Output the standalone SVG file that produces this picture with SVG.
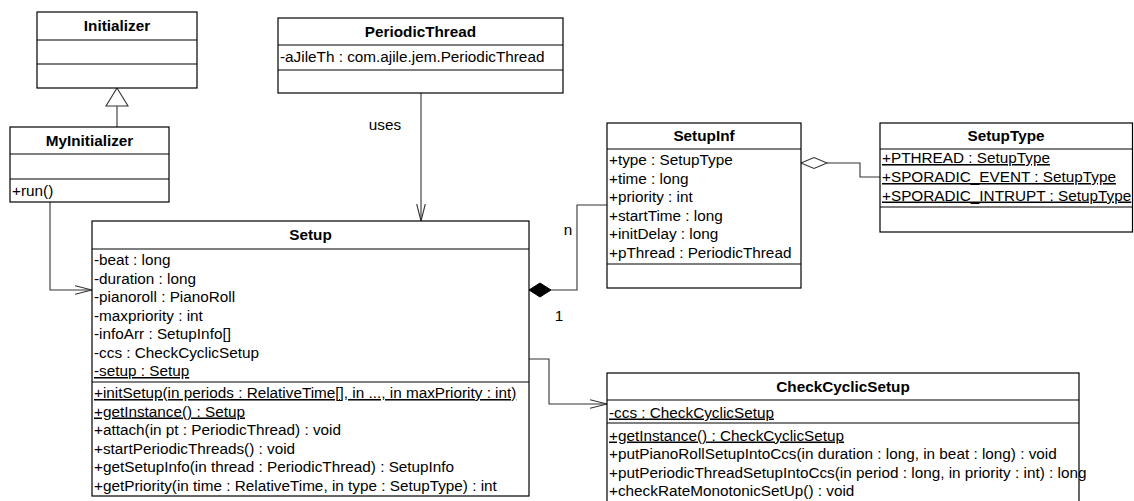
<svg xmlns="http://www.w3.org/2000/svg" width="1134" height="501" viewBox="0 0 1134 501">
  <style>
    text { font-family: "Liberation Sans", Arial, sans-serif; font-size: 15.3px; fill: #000; }
    .title { font-weight: bold; text-anchor: middle; }
    .u { text-decoration: underline; }
    .box { fill: #fff; stroke: #000; stroke-width: 1.2; }
    .div { stroke: #000; stroke-width: 1.2; }
    .conn { fill: none; stroke: #333; stroke-width: 1.1; }
  </style>
  <defs>
    <marker id="open" viewBox="0 0 18 10" refX="17" refY="5" markerWidth="18" markerHeight="10" markerUnits="userSpaceOnUse" orient="auto">
      <path d="M0,0.7 L17,5 L0,9.3" fill="none" stroke="#333" stroke-width="1.1"/>
    </marker>
  </defs>
  <rect width="1134" height="501" fill="#fff"/>

  <!-- connectors -->
  <g id="connectors">
    <!-- MyInitializer generalises Initializer -->
    <path class="conn" d="M117,127 V106"/>
    <path d="M117,88 L106,106 L128,106 Z" fill="#fff" stroke="#333" stroke-width="1.1"/>
    <!-- MyInitializer to Setup -->
    <path class="conn" d="M50,202 V290 H92" marker-end="url(#open)"/>
    <!-- PeriodicThread uses Setup -->
    <path class="conn" d="M421,93 V221" marker-end="url(#open)"/>
    <text x="385" y="130" text-anchor="middle">uses</text>
    <!-- Setup composes SetupInf -->
    <path class="conn" d="M551,290 H577 V205 H607"/>
    <path d="M529,290 L540,283 L551,290 L540,297 Z" fill="#000" stroke="#000" stroke-width="1"/>
    <text x="568" y="235" text-anchor="middle">n</text>
    <text x="559" y="321" text-anchor="middle">1</text>
    <!-- SetupInf aggregates SetupType -->
    <path class="conn" d="M827,163 H860 V177 H880"/>
    <path d="M801,163 L814,157.5 L827,163 L814,168.5 Z" fill="#fff" stroke="#333" stroke-width="1.1"/>
    <!-- Setup to CheckCyclicSetup -->
    <path class="conn" d="M529,359 H549 V404 H607" marker-end="url(#open)"/>
  </g>

  <g id="Initializer">
    <rect class="box" x="37" y="12" width="160" height="76"/>
    <line class="div" x1="37" y1="40" x2="197" y2="40"/>
    <line class="div" x1="37" y1="64" x2="197" y2="64"/>
    <text class="title" x="117" y="31">Initializer</text>
  </g>

  <g id="MyInitializer">
    <rect class="box" x="10" y="127" width="159" height="75"/>
    <line class="div" x1="10" y1="154" x2="169" y2="154"/>
    <line class="div" x1="10" y1="179" x2="169" y2="179"/>
    <text class="title" x="89.5" y="146">MyInitializer</text>
    <text x="12" y="196">+run()</text>
  </g>

  <g id="PeriodicThread">
    <rect class="box" x="278" y="18" width="285" height="75"/>
    <line class="div" x1="278" y1="45" x2="563" y2="45"/>
    <line class="div" x1="278" y1="70" x2="563" y2="70"/>
    <text class="title" x="420.5" y="37">PeriodicThread</text>
    <text x="280" y="62">-aJileTh : com.ajile.jem.PeriodicThread</text>
  </g>

  <g id="Setup">
    <rect class="box" x="92" y="221" width="437" height="275"/>
    <line class="div" x1="92" y1="249" x2="529" y2="249"/>
    <line class="div" x1="92" y1="382" x2="529" y2="382"/>
    <text class="title" x="310.5" y="240">Setup</text>
    <text x="94" y="265">-beat : long</text>
    <text x="94" y="283.5">-duration : long</text>
    <text x="94" y="302">-pianoroll : PianoRoll</text>
    <text x="94" y="320.5">-maxpriority : int</text>
    <text x="94" y="339">-infoArr : SetupInfo[]</text>
    <text x="94" y="357.5">-ccs : CheckCyclicSetup</text>
    <text x="94" y="376" class="u">-setup : Setup</text>
    <text x="94" y="398" class="u">+initSetup(in periods : RelativeTime[], in ..., in maxPriority : int)</text>
    <text x="94" y="416.5" class="u">+getInstance() : Setup</text>
    <text x="94" y="435">+attach(in pt : PeriodicThread) : void</text>
    <text x="94" y="453.5">+startPeriodicThreads() : void</text>
    <text x="94" y="472">+getSetupInfo(in thread : PeriodicThread) : SetupInfo</text>
    <text x="94" y="490.5">+getPriority(in time : RelativeTime, in type : SetupType) : int</text>
  </g>

  <g id="SetupInf">
    <rect class="box" x="607" y="123" width="194" height="165"/>
    <line class="div" x1="607" y1="149" x2="801" y2="149"/>
    <line class="div" x1="607" y1="264" x2="801" y2="264"/>
    <text class="title" x="704" y="141">SetupInf</text>
    <text x="609" y="165">+type : SetupType</text>
    <text x="609" y="183.5">+time : long</text>
    <text x="609" y="202">+priority : int</text>
    <text x="609" y="220.5">+startTime : long</text>
    <text x="609" y="239">+initDelay : long</text>
    <text x="609" y="257.5">+pThread : PeriodicThread</text>
  </g>

  <g id="SetupType">
    <rect class="box" x="880" y="123" width="252.5" height="109"/>
    <line class="div" x1="880" y1="149" x2="1132.5" y2="149"/>
    <line class="div" x1="880" y1="207" x2="1132.5" y2="207"/>
    <text class="title" x="1006" y="141">SetupType</text>
    <text x="882" y="163" class="u">+PTHREAD : SetupType</text>
    <text x="882" y="182" class="u">+SPORADIC_EVENT : SetupType</text>
    <text x="882" y="200.5" class="u">+SPORADIC_INTRUPT : SetupType</text>
  </g>

  <g id="CheckCyclicSetup">
    <rect class="box" x="607" y="373" width="472" height="140"/>
    <line class="div" x1="607" y1="400" x2="1079" y2="400"/>
    <line class="div" x1="607" y1="423" x2="1079" y2="423"/>
    <text class="title" x="843" y="392">CheckCyclicSetup</text>
    <text x="609" y="417.5" class="u">-ccs : CheckCyclicSetup</text>
    <text x="609" y="440.5" class="u">+getInstance() : CheckCyclicSetup</text>
    <text x="609" y="459">+putPianoRollSetupIntoCcs(in duration : long, in beat : long) : void</text>
    <text x="609" y="477.5">+putPeriodicThreadSetupIntoCcs(in period : long, in priority : int) : long</text>
    <text x="609" y="496">+checkRateMonotonicSetUp() : void</text>
  </g>
</svg>
